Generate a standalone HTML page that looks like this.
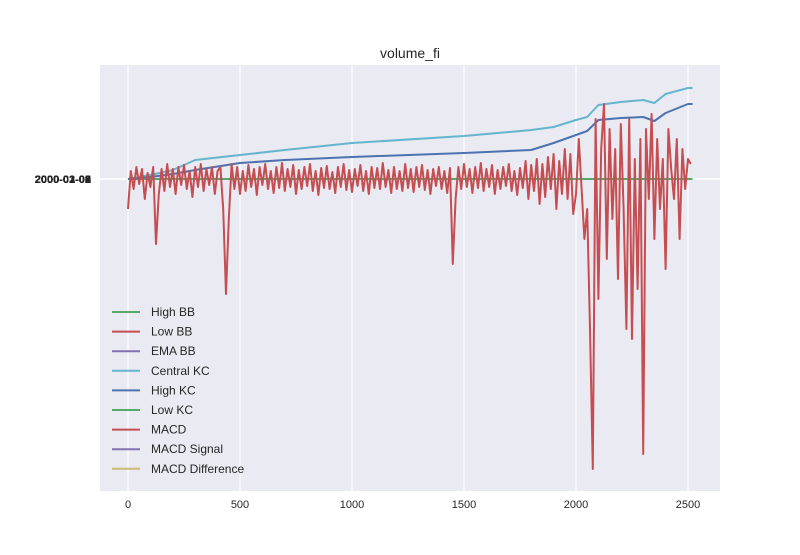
<!DOCTYPE html>
<html><head><meta charset="utf-8"><style>
body{margin:0;background:#fff;font-family:"Liberation Sans",sans-serif}
svg text{font-family:"Liberation Sans",sans-serif}
</style></head><body>
<svg width="800" height="550" id="c">
<rect x="100" y="65" width="620" height="426" fill="#eaeaf2"/>
<text x="410" y="58" text-anchor="middle" font-size="14" fill="#262626">volume_fi</text>
<g id="grid"></g><g id="series"></g><g id="legend"></g>
</svg>
<script>
const xTicks=[0,500,1000,1500,2000,2500];
const yLabels=["2000-01-01","2000-01-02","2000-01-03","2000-01-05","2000-01-08","2000-02-06","2000-03-09"];
const kcX=[0,100,200,300,500,700,1000,1500,1800,1900,2000,2050,2100,2200,2300,2350,2400,2500,2520];
const centralKC=[0,4,9,19,24,29,36,43,49,52,59,62,74,77,79,76,85,91,91];
const highKC=[0,2,5,9,16,19,22,26,29,36,44,48,59,61,62,58,66,75,75];
const macdStep=12.5;
const macd=[-30,8,-10,12,-5,10,-20,6,-8,12,-65,-15,10,
-12,15,-8,10,-15,12,-6,14,-10,8,-18,12,-8,15,-12,10,-6,12,-15,8,
12,-30,-115,-40,
15,-10,12,-15,8,-12,14,-8,10,-16,12,-6,15,-10,8,-14,12,-9,16,-12,10,-8,14,-15,9,-10,12,-7,15,-12,8,-16,11,-9,13,-10,7,-14,12,-8,15,-11,9,-13,10,-7,14,-12,8,-15,12,-9,11,-10,16,-8,9,-14,12,-10,8,-12,15,-9,10,-13,12,-8,14,-11,9,-15,10,-7,12,-10,8,-14,11,
-85,-20,
12,-10,15,-8,10,-14,12,-9,16,-12,10,-8,14,-15,9,-10,12,-7,15,-12,8,-16,11,-9,18,-20,14,-12,20,-25,15,-18,22,-10,25,-30,18,-15,30,-20,25,-35,
-15,40,-10,-60,-30,-150,-290,60,-120,30,75,-80,50,-40,30,-100,55,-30,-150,60,-160,20,-110,40,-275,50,-20,65,-60,40,-30,20,-90,50,10,-20,40,-60,30,-10,20,15];
const legendNames=["High BB","Low BB","EMA BB","Central KC","High KC","Low KC","MACD","MACD Signal","MACD Difference"];
const legendColors=["#55a868","#c44e52","#8172b2","#64b5cd","#4c72b0","#55a868","#c44e52","#8172b2","#ccb974"];
const X=v=>128+v*0.224, Y=v=>179-v;
const NS="http://www.w3.org/2000/svg";
function mk(t,a,p){const e=document.createElementNS(NS,t);for(const k in a)e.setAttribute(k,a[k]);p.appendChild(e);return e;}
const g=document.getElementById('grid'),s=document.getElementById('series'),lg=document.getElementById('legend');
xTicks.forEach(t=>{
 const l=mk('line',{x1:X(t),x2:X(t),y1:65,y2:491,stroke:'#fff','stroke-width':1.2},g);
 
 
 const tx=mk('text',{x:X(t),y:508,'text-anchor':'middle','font-size':11,fill:'#262626'},g);tx.textContent=t;
 
 
});
const hl=mk('line',{x1:100,x2:720,y1:Y(0),y2:Y(0),stroke:'#fff','stroke-width':1.5},g);


yLabels.forEach(t=>{const tx=mk('text',{x:91,y:Y(0)+4,'text-anchor':'end','font-size':11,'font-weight':'bold',fill:'#262626'},g);tx.textContent=t;
 
 });
function line(xs,ys,c,name){const p=mk('polyline',{points:xs.map((x,i)=>X(x)+','+Y(ys[i])).join(' '),fill:'none',stroke:c,'stroke-width':2,'stroke-linejoin':'round'},s);
 
 }
line([0,2520],[0,0],'#55a868','low-kc-line');
line(kcX,centralKC,'#64b5cd','central-kc-line');
line(kcX,highKC,'#4c72b0','high-kc-line');
line(macd.map((v,i)=>i*macdStep),macd,'#c44e52','macd-line');
legendNames.forEach((n,i)=>{const y=312+i*19.6;
 const l=mk('line',{x1:112,x2:140,y1:y,y2:y,stroke:legendColors[i],'stroke-width':2},lg);
 
 
 const t=mk('text',{x:151,y:y+4,'font-size':12,fill:'#262626'},lg);t.textContent=n;
 
 
});
</script>
</body></html>
